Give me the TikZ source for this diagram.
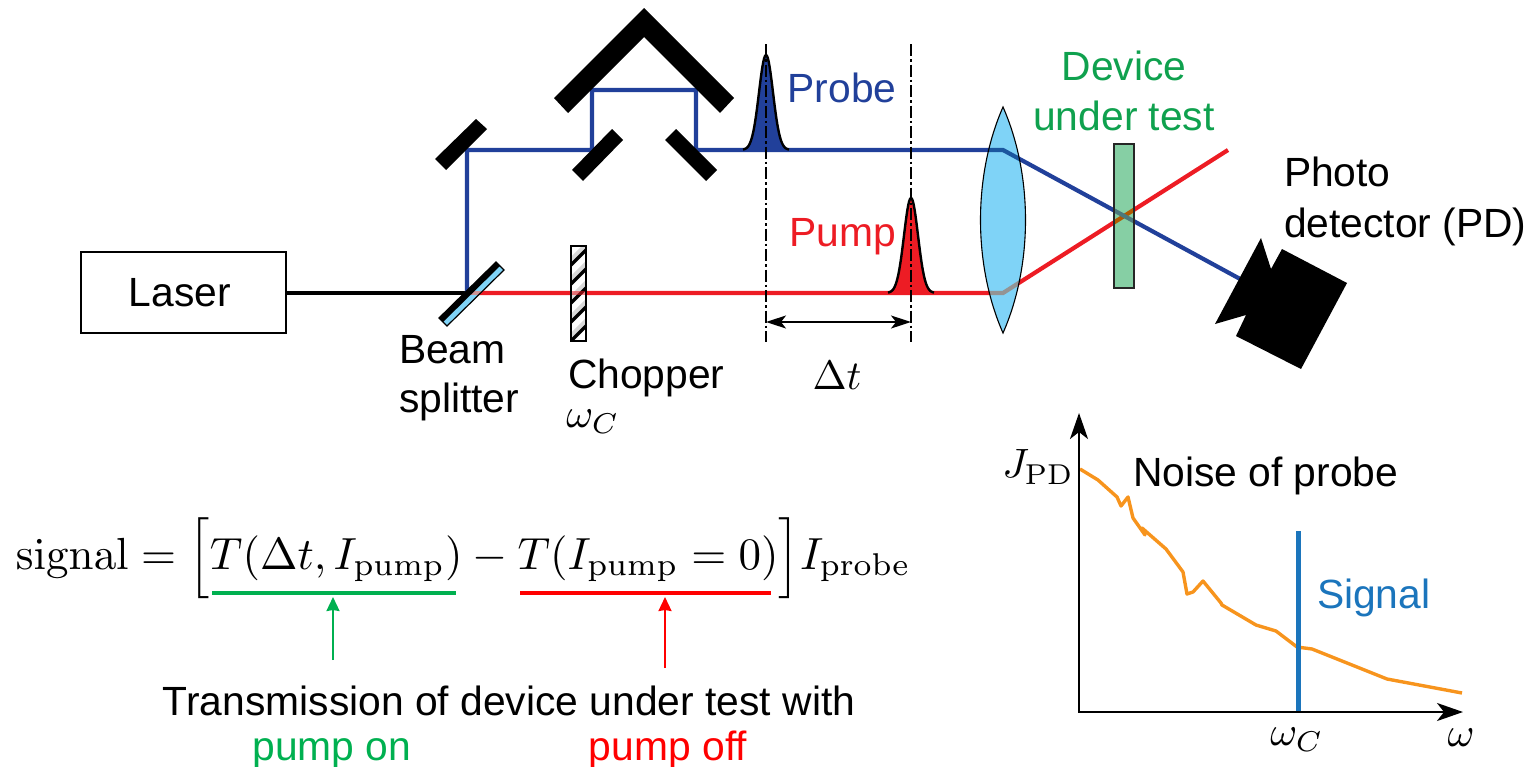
\RequirePackage{fix-cm}
\documentclass[tikz,border=0pt]{standalone}
\usepackage[no-math]{fontspec}
\setmainfont{Liberation Sans}
\usetikzlibrary{arrows.meta}
\definecolor{cblue}{HTML}{21409A}
\definecolor{cred}{HTML}{ED1C24}
\definecolor{pred}{HTML}{FF0000}
\definecolor{cgreen}{HTML}{00B050}
\definecolor{dgreen}{HTML}{0FA14E}
\definecolor{csig}{HTML}{1B75BC}
\definecolor{corange}{HTML}{F7941D}
\definecolor{clens}{HTML}{7FD3F7}
\definecolor{cdut}{HTML}{86CFA4}
\newcommand{\bigtxt}{\fontsize{40.8}{44}\selectfont}
\newcommand{\mth}[1]{\scalebox{4.1}{$#1$}}
\newcommand{\mthf}[1]{\scalebox{4.5}{$#1$}}
\tikzset{
  lbl/.style={font=\bigtxt,inner sep=0pt,outer sep=0pt},
  lblL/.style={lbl,anchor=base west},
  mthn/.style={inner sep=0pt,outer sep=0pt},
  ray/.style={line width=4.2pt,line join=miter},
  blueray/.style={ray,draw=cblue},
  redray/.style={ray,draw=cred},
  mirror/.style={fill=black,draw=none},
  guide/.style={line width=1.6pt,dash pattern=on 12pt off 3pt on 2.5pt off 3pt},
  pulse/.style={line width=2.4pt,line join=round},
  axis/.style={line width=2.2pt,-{Stealth[length=26pt,width=18pt,inset=7pt]}},
  tick arrow/.style={line width=1.6pt,{Stealth[length=20pt,width=13pt,inset=5pt]}-{Stealth[length=20pt,width=13pt,inset=5pt]}},
  uparrow/.style={line width=2.2pt,-{Stealth[length=14pt,width=13pt,inset=1pt]}},
}
\def\lenspath{(1003,107) .. controls (1033,175) and (1033,265) .. (1003,333) .. controls (973,265) and (973,175) .. (1003,107) -- cycle}
\begin{document}
\begin{tikzpicture}[x=1pt,y=-1pt]
\useasboundingbox (0,0) rectangle (1534,766);

% anchor points for the beam paths
\coordinate (bs) at (467,293);
\coordinate (m1) at (467,150);
\coordinate (ml) at (592,150);
\coordinate (rl) at (592,90);
\coordinate (rr) at (696,90);
\coordinate (mr) at (696,150);
\coordinate (lb) at (1003,150);
\coordinate (lr) at (1003,293);
\coordinate (redend) at (1228,150);
\coordinate (pd) at (1242,280);

\node[draw=black,line width=1.6pt,minimum width=205pt,minimum height=81pt,inner sep=0pt,font=\bigtxt] (laser) at (183.5,292.5) {\hspace*{-7pt}Laser};

% beams
\draw[line width=4.4pt,draw=black] (laser.east |- bs) -- (bs);
\draw[blueray] (bs) -- (m1) -- (ml) -- (rl) -- (rr) -- (mr) -- (lb) -- (pd);
\draw[redray] (bs) -- (lr) -- (redend);

% mirrors
\fill[mirror] (476,119) -- (487,129) -- (446,170) -- (435,159) -- cycle;
\fill[mirror] (612,129) -- (623,140) -- (583,181) -- (572,170) -- cycle;
\fill[mirror] (676,129) -- (665,140) -- (706,181) -- (717,170) -- cycle;
\fill[mirror] (644,8) -- (734,98) -- (720,113) -- (644,37) -- (568,113) -- (554,98) -- cycle;

% beam splitter
\fill[clens] (496,262) -- (504,270) -- (447,326) -- (439,318) -- cycle;
\begin{scope}
  \clip (496,262) -- (504,270) -- (447,326) -- (439,318) -- cycle;
  \draw[line width=4.2pt,draw=black!40!cred!45!white] (467,293) -- (482,293);
\end{scope}
\draw[line width=1.2pt] (496,262) -- (504,270) -- (447,326) -- (439,318) -- cycle;
\fill[black] (496,262) -- (500,266) -- (443,322) -- (439,318) -- cycle;

% chopper
\begin{scope}
  \clip (571,246) rectangle (586,341);
  \fill[white] (571,246) rectangle (586,341);
  \foreach \k in {0,...,4} {
    \draw[line width=6pt,draw=black!15] (569,{263+19*\k}) -- (589,{243+19*\k});
    \draw[line width=3.4pt,draw=black] (569,{267+19*\k}) -- (589,{247+19*\k});
  }
  \draw[line width=4.2pt,draw=cred,opacity=.55] (571,293) -- (586,293);
\end{scope}
\draw[line width=1.6pt] (571,246) rectangle (586,341);

% pulses
\fill[cblue] plot[domain=-22:22,samples=60] ({766+\x},{150-95*exp(-(\x)*(\x)/98)}) -- cycle;
\fill[cred] plot[domain=-22:22,samples=60] ({911+\x},{293-95*exp(-(\x)*(\x)/98)}) -- cycle;
\draw[pulse] plot[domain=-23:23,samples=60] ({766+\x},{150-95*exp(-(\x)*(\x)/98)});
\draw[pulse] plot[domain=-23:23,samples=60] ({911+\x},{293-95*exp(-(\x)*(\x)/98)});

% delay guides
\coordinate (g1t) at (766,44);
\coordinate (g1b) at (766,342);
\coordinate (g2t) at (911,44);
\coordinate (g2b) at (911,342);
\coordinate (d1) at (766,322);
\coordinate (d2) at (911,322);
\draw[guide] (g1t) -- (g1b);
\draw[guide] (g2t) -- (g2b);
\draw[tick arrow] (d1) -- (d2);

% lens
\fill[clens] \lenspath;
\begin{scope}
  \clip \lenspath;
  \draw[ray,draw=black!20!cblue!45!csig] (mr) -- (lb) -- (pd);
  \draw[ray,draw=black!42!white] (bs) -- (lr) -- (redend);
\end{scope}
\draw[line width=1.1pt] \lenspath;

% device under test
\fill[cdut] (1114,144) rectangle (1134,288);
\begin{scope}
  \clip (1114,144) rectangle (1134,288);
  \draw[ray,draw=orange!70!black] (lr) -- (redend);
  \draw[ray,draw=black!45!cblue!50!cdut] (lb) -- (pd);
\end{scope}
\draw[line width=1.6pt,draw=black!85] (1114,144) rectangle (1134,288);

% photodetector
\fill[mirror] (1261,238) -- (1271,269) -- (1282,249) -- (1347,283) -- (1301,369) -- (1236,336) -- (1246,315) -- (1215,324) -- cycle;

% labels, upper part
\node[lblL] (beam) at (399,363) {Beam};
\node[lblL] (split) at (399,412) {splitter};
\node[lblL] (chop) at (568,388) {Chopper};
\node[mthn] (omc) at (593,422) {\mth{\omega_C}};
\node[mthn] (dt) at (837,375) {\mth{\Delta t}};
\node[lbl,text=cblue] (probe) at (842,88) {Probe};
\node[lbl,text=cred] (pump) at (843,237) {Pump};
\node[lbl,text=dgreen,anchor=base] (dev) at (1124,80) {Device};
\node[lbl,text=dgreen,anchor=base] (under) at (1124,130) {under test};
\node[lblL] (photo) at (1284,186) {Photo};
\node[lblL] (det) at (1284,237) {detector (PD)};

% spectrum
\coordinate (orig) at (1079,712);
\coordinate (ytip) at (1079,413);
\coordinate (xtip) at (1463,712);
\coordinate (sigt) at (1298,531);
\coordinate (sigb) at (1298,712);
\draw[corange,line width=3.4pt,line join=round] (1080,469) -- (1098,480) -- (1117,497) -- (1121,506) -- (1128,497) -- (1133,518) -- (1145,535) -- (1142,528) -- (1166,549) -- (1183,572) -- (1187,594) -- (1193,592) -- (1203,581) -- (1221,603) -- (1222,605) -- (1256,625) -- (1276,631) -- (1297,647) -- (1312,649) -- (1387,679) -- (1462,693);
\draw[csig,line width=5pt] (sigt) -- (sigb);
\draw[axis] (orig) -- (ytip);
\draw[axis] ([xshift=-1pt]orig) -- (xtip);
\node[mthn] (jpd) at (1038,467) {\mth{J_{\mathrm{PD}}}};
\node[lblL] (noise) at (1133,486) {Noise of probe};
\node[lblL,text=csig] (sig) at (1317,608) {Signal};
\node[mthn] (omc2) at (1297,740) {\mth{\omega_C}};
\node[mthn] (om) at (1461,738) {\mth{\omega}};

% formula
\node[mthn,anchor=base west] (formula) at (16,569) {\mthf{\mathrm{signal}=\Big[T(\Delta t,I_{\mathrm{pump}})-T(I_{\mathrm{pump}}=0)\Big]I_{\mathrm{probe}}}};
\coordinate (ug1) at (212,593);
\coordinate (ug2) at (456,593);
\coordinate (ur1) at (520,593);
\coordinate (ur2) at (771,593);
\coordinate (ag1) at (333,660);
\coordinate (ag2) at (333,597);
\coordinate (ar1) at (665,668);
\coordinate (ar2) at (665,597);
\draw[cgreen,line width=3.2pt] (ug1) -- (ug2);
\draw[pred,line width=3.2pt] (ur1) -- (ur2);
\draw[uparrow,cgreen] (ag1) -- (ag2);
\draw[uparrow,pred] (ar1) -- (ar2);
\node[lbl,anchor=base] (trans) at (509,715) {Transmission of device under test with};
\node[lbl,text=cgreen,anchor=base] (on) at (332,760) {pump on};
\node[lbl,text=pred,anchor=base] (off) at (668,760) {pump off};
\end{tikzpicture}
\end{document}
